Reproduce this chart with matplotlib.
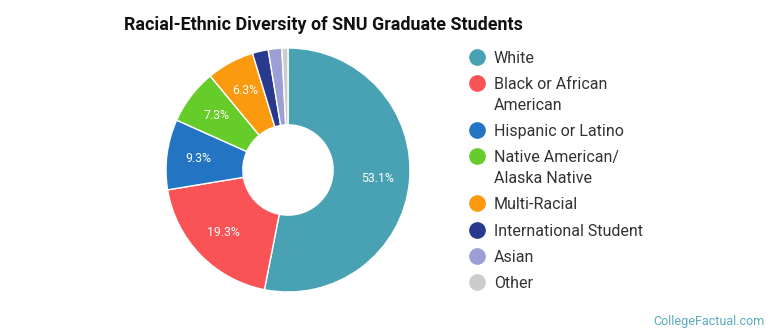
import numpy as np
import matplotlib.pyplot as plt

plt.rcParams['font.family'] = ['Roboto', 'DejaVu Sans']

labels = ['White', 'Black or African\nAmerican', 'Hispanic or Latino',
          'Native American/\nAlaska Native', 'Multi-Racial',
          'International Student', 'Asian', 'Other']
values = [53.1, 19.3, 9.3, 7.3, 6.3, 2.1, 1.8, 0.8]
colors = ['#49a2b4', '#fa5356', '#2375c3', '#66cc2a', '#fb9a0e',
          '#283a8e', '#9c9fd6', '#cccccc']

fig = plt.figure(figsize=(7.7, 3.35), dpi=100)
ax = fig.add_axes([166 / 770, 43 / 335, 244 / 770, 244 / 335])

wedges, _ = ax.pie(values, colors=colors, startangle=90, counterclock=False,
                   radius=1.0,
                   wedgeprops=dict(width=0.63, edgecolor='white', linewidth=1.0))
ax.set_xlim(-1, 1)
ax.set_ylim(-1, 1)
ax.set_aspect('equal')

# percentage labels for larger slices
total = sum(values)
ang = 90.0
for v in values:
    theta = ang - v / total * 360 / 2
    ang -= v / total * 360
    if v >= 5:
        r = 0.74
        ax.text(r * np.cos(np.radians(theta)), r * np.sin(np.radians(theta)),
                f'{v:.1f}%', color='white', fontsize=8.8, ha='center', va='center')

fig.text(124 / 770, 1 - 25 / 335, 'Racial-Ethnic Diversity of SNU Graduate Students',
         fontsize=12.9, fontweight='bold', ha='left', va='center', color='#111111')

# legend
y = 57
for lab, c in zip(labels, colors):
    fig.add_artist(plt.Line2D([477 / 770], [1 - y / 335], marker='o', markersize=11,
                              color=c, linestyle='none', transform=fig.transFigure))
    for k, line in enumerate(lab.split('\n')):
        fig.text(494 / 770, 1 - (y + 20.5 * k) / 335, line, fontsize=11.5,
                 ha='left', va='center_baseline', color='#333333')
    y += 26.3 + 20.5 * lab.count('\n')

fig.text(764 / 770, 1 - 321 / 335, 'CollegeFactual.com', fontsize=9,
         color='#5aabbd', ha='right', va='center')

plt.savefig('out.png', dpi=100)
